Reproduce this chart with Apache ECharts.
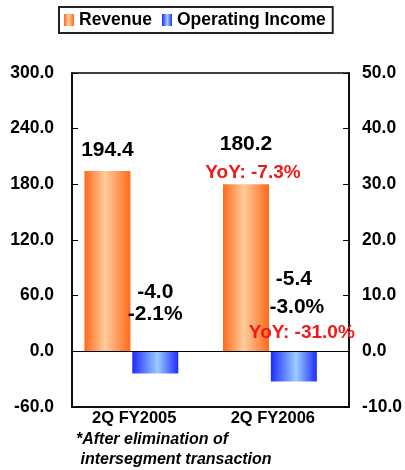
<!DOCTYPE html>
<html>
<head>
<meta charset="utf-8">
<script src="https://cdn.jsdelivr.net/npm/echarts@6/dist/echarts.min.js"></script>
<style>
  html, body { margin: 0; padding: 0; background: #fff; }
  #chart { width: 405px; height: 470px; }
</style>
</head>
<body>
<div id="chart"></div>
<script>
// Quarterly results, revenue (left axis) and operating income (right axis)
const categories = ['2Q FY2005', '2Q FY2006'];
const revenue = [194.4, 180.2];
const operatingIncome = [-4.0, -5.4];
const operatingMargin = ['-2.1%', '-3.0%'];
const revenueYoY = [null, 'YoY: -7.3%'];
const incomeYoY = [null, 'YoY: -31.0%'];
const leftAxisTicks = { min: -60, max: 300, interval: 60 };
const rightAxisTicks = { min: -10, max: 50, interval: 10 };
const footnote = ['*After elimination of', ' intersegment transaction'];

const FONT = '"Liberation Sans", Arial, sans-serif';

const orangeFill = new echarts.graphic.LinearGradient(0, 0, 1, 0, [
  { offset: 0, color: '#ff6a1c' },
  { offset: 0.45, color: '#ffcc9c' },
  { offset: 1, color: '#ff6a1c' }
]);
const blueFill = new echarts.graphic.LinearGradient(0, 0, 1, 0, [
  { offset: 0, color: '#1f2cff' },
  { offset: 0.55, color: '#9cccff' },
  { offset: 1, color: '#1f2cff' }
]);

const labelRich = {
  v:  { fontFamily: FONT, fontSize: 21, fontWeight: 'bold', color: '#000', lineHeight: 22 },
  vt: { fontFamily: FONT, fontSize: 21, fontWeight: 'bold', color: '#000', lineHeight: 36 },
  y:  { fontFamily: FONT, fontSize: 19, fontWeight: 'bold', color: '#f01818', lineHeight: 22, padding: [0, 0, 0, 14] },
  m:  { fontFamily: FONT, fontSize: 21, fontWeight: 'bold', color: '#000', lineHeight: 23 },
  p:  { fontFamily: FONT, fontSize: 21, fontWeight: 'bold', color: '#000', lineHeight: 22 },
  m2: { fontFamily: FONT, fontSize: 21, fontWeight: 'bold', color: '#000', lineHeight: 26 },
  p2: { fontFamily: FONT, fontSize: 21, fontWeight: 'bold', color: '#000', lineHeight: 30, padding: [0, 0, 0, 6] },
  y2: { fontFamily: FONT, fontSize: 19, fontWeight: 'bold', color: '#f01818', lineHeight: 20, padding: [0, 0, 0, 16] }
};

const revenueData = revenue.map((v, i) => ({
  value: v,
  label: revenueYoY[i]
    ? { distance: 0, formatter: '{vt|' + v.toFixed(1) + '}\n{y|' + revenueYoY[i] + '}' }
    : { distance: 10, formatter: '{v|' + v.toFixed(1) + '}' }
}));

const incomeData = operatingIncome.map((v, i) => ({
  value: v,
  label: incomeYoY[i]
    ? { distance: 9, formatter: '{m2|' + v.toFixed(1) + '}\n{p2|' + operatingMargin[i] + '}\n{y2|' + incomeYoY[i] + '}' }
    : { distance: 26, formatter: '{m|' + v.toFixed(1) + '}\n{p|' + operatingMargin[i] + '}' }
}));

const axisLabelStyle = { fontFamily: FONT, fontSize: 17.5, fontWeight: 'bold', color: '#000' };

const chart = echarts.init(document.getElementById('chart'), null, { renderer: 'canvas' });
chart.setOption({
  animation: false,
  backgroundColor: '#fff',
  legend: {
    data: ['Revenue', 'Operating Income'],
    left: 59,
    top: 7,
    padding: [4, 7, 4, 5],
    itemGap: 10,
    itemWidth: 10,
    itemHeight: 12,
    icon: 'rect',
    borderColor: '#222',
    borderWidth: 2,
    textStyle: { fontFamily: FONT, fontSize: 17.5, fontWeight: 'bold', color: '#000' }
  },
  grid: {
    left: 72, right: 53, top: 73, bottom: 63,
    show: true, borderColor: '#000', borderWidth: 1.5, backgroundColor: 'transparent'
  },
  xAxis: {
    type: 'category',
    data: categories,
    axisLine: { onZero: false, lineStyle: { color: '#000', width: 1.5 } },
    axisTick: { show: false },
    axisLabel: {
      margin: 3, padding: [0, 14, 0, 0],
      fontFamily: FONT, fontSize: 16.5, fontWeight: 'bold', color: '#000'
    }
  },
  yAxis: [
    {
      type: 'value',
      position: 'left',
      min: leftAxisTicks.min, max: leftAxisTicks.max, interval: leftAxisTicks.interval,
      splitLine: { show: false },
      axisLine: { show: true, lineStyle: { color: '#000', width: 1.5 } },
      axisTick: { show: true, inside: true, length: 6, lineStyle: { color: '#000', width: 1 } },
      axisLabel: Object.assign({ margin: 18, formatter: v => v.toFixed(1) }, axisLabelStyle)
    },
    {
      type: 'value',
      position: 'right',
      min: rightAxisTicks.min, max: rightAxisTicks.max, interval: rightAxisTicks.interval,
      splitLine: { show: false },
      axisLine: { show: true, lineStyle: { color: '#000', width: 1.5 } },
      axisTick: { show: true, inside: true, length: 6, lineStyle: { color: '#000', width: 1 } },
      axisLabel: Object.assign({ margin: 13, formatter: v => v.toFixed(1) }, axisLabelStyle)
    }
  ],
  series: [
    {
      name: 'Revenue',
      type: 'bar',
      yAxisIndex: 0,
      barWidth: 46,
      barGap: '4%',
      itemStyle: { color: orangeFill },
      label: { show: true, position: 'top', rich: labelRich },
      data: revenueData
    },
    {
      name: 'Operating Income',
      type: 'bar',
      yAxisIndex: 1,
      barWidth: 46,
      itemStyle: { color: blueFill },
      label: { show: true, position: 'top', rich: labelRich },
      markLine: {
        silent: true,
        symbol: 'none',
        label: { show: false },
        lineStyle: { color: '#000', width: 1, type: 'solid' },
        data: [{ yAxis: 0 }]
      },
      data: incomeData
    },
    {
      // empty slot that keeps each pair of bars left of the category centre
      name: 'spacer',
      type: 'bar',
      yAxisIndex: 0,
      barWidth: 18,
      silent: true,
      data: categories.map(() => null)
    }
  ],
  graphic: [
    {
      type: 'text',
      left: 76,
      top: 430,
      style: {
        text: footnote.join('\n'),
        font: 'italic bold 16px ' + FONT,
        lineHeight: 20,
        fill: '#000'
      }
    }
  ]
});
</script>
</body>
</html>
